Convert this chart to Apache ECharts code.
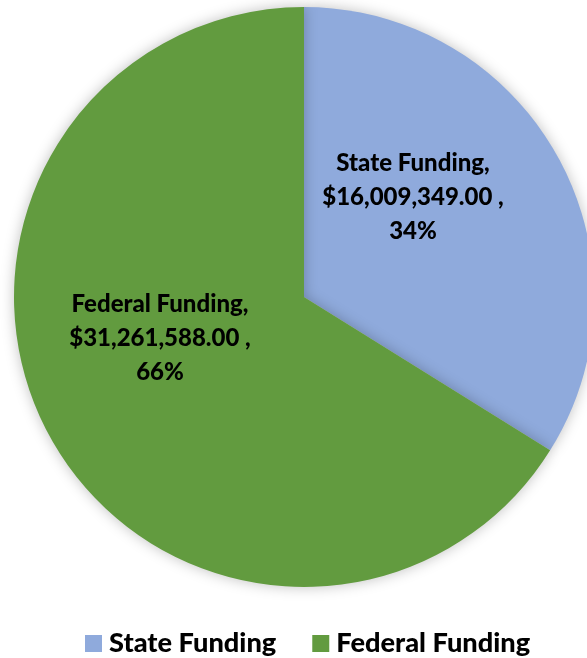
<!DOCTYPE html>
<html><head><meta charset="utf-8">
<script src="https://cdn.jsdelivr.net/npm/echarts@6/dist/echarts.min.js"></script>
<style>html,body{margin:0;padding:0;background:#fff}#c{width:587px;height:658px}</style>
</head><body><div id="c"></div>
<script>
const categories = ['State Funding', 'Federal Funding'];
const values = [16009349.00, 31261588.00];
const colors = ['#8FAADC', '#629B3F'];
const labelCenters = [[413, 197], [160, 338]];

const chart = echarts.init(document.getElementById('c'));
const total = values.reduce((a, b) => a + b, 0);
function fmt(v) {
  return '$' + v.toLocaleString('en-US', {minimumFractionDigits: 2, maximumFractionDigits: 2});
}
chart.setOption({
  animation: false,
  legend: {
    top: 625,
    left: 80,
    itemWidth: 17,
    itemHeight: 17,
    itemGap: 36,
    icon: 'rect',
    textStyle: {fontFamily: 'Lato', fontWeight: 900, fontSize: 27.2, color: '#000', padding: [0, 0, 0, 2]},
    data: categories
  },
  series: [{
    type: 'pie',
    center: [304, 297],
    radius: 290,
    startAngle: 90,
    clockwise: true,
    data: categories.map((c, i) => ({name: c, value: values[i], itemStyle: {color: colors[i]}})),
    itemStyle: {shadowBlur: 14, shadowColor: 'rgba(0,0,0,0.25)', borderWidth: 0},
    label: {
      position: 'inside',
      fontFamily: 'Lato', fontWeight: 900, fontSize: 24, color: '#000',
      lineHeight: 34, align: 'center',
      formatter: p => p.name + ',\n' + fmt(p.value) + ' ,\n' + Math.round(p.value / total * 100) + '%'
    },
    labelLayout: p => ({x: labelCenters[p.dataIndex][0], y: labelCenters[p.dataIndex][1], align: 'center', verticalAlign: 'middle'}),
    labelLine: {show: false}
  }]
});
</script></body></html>
